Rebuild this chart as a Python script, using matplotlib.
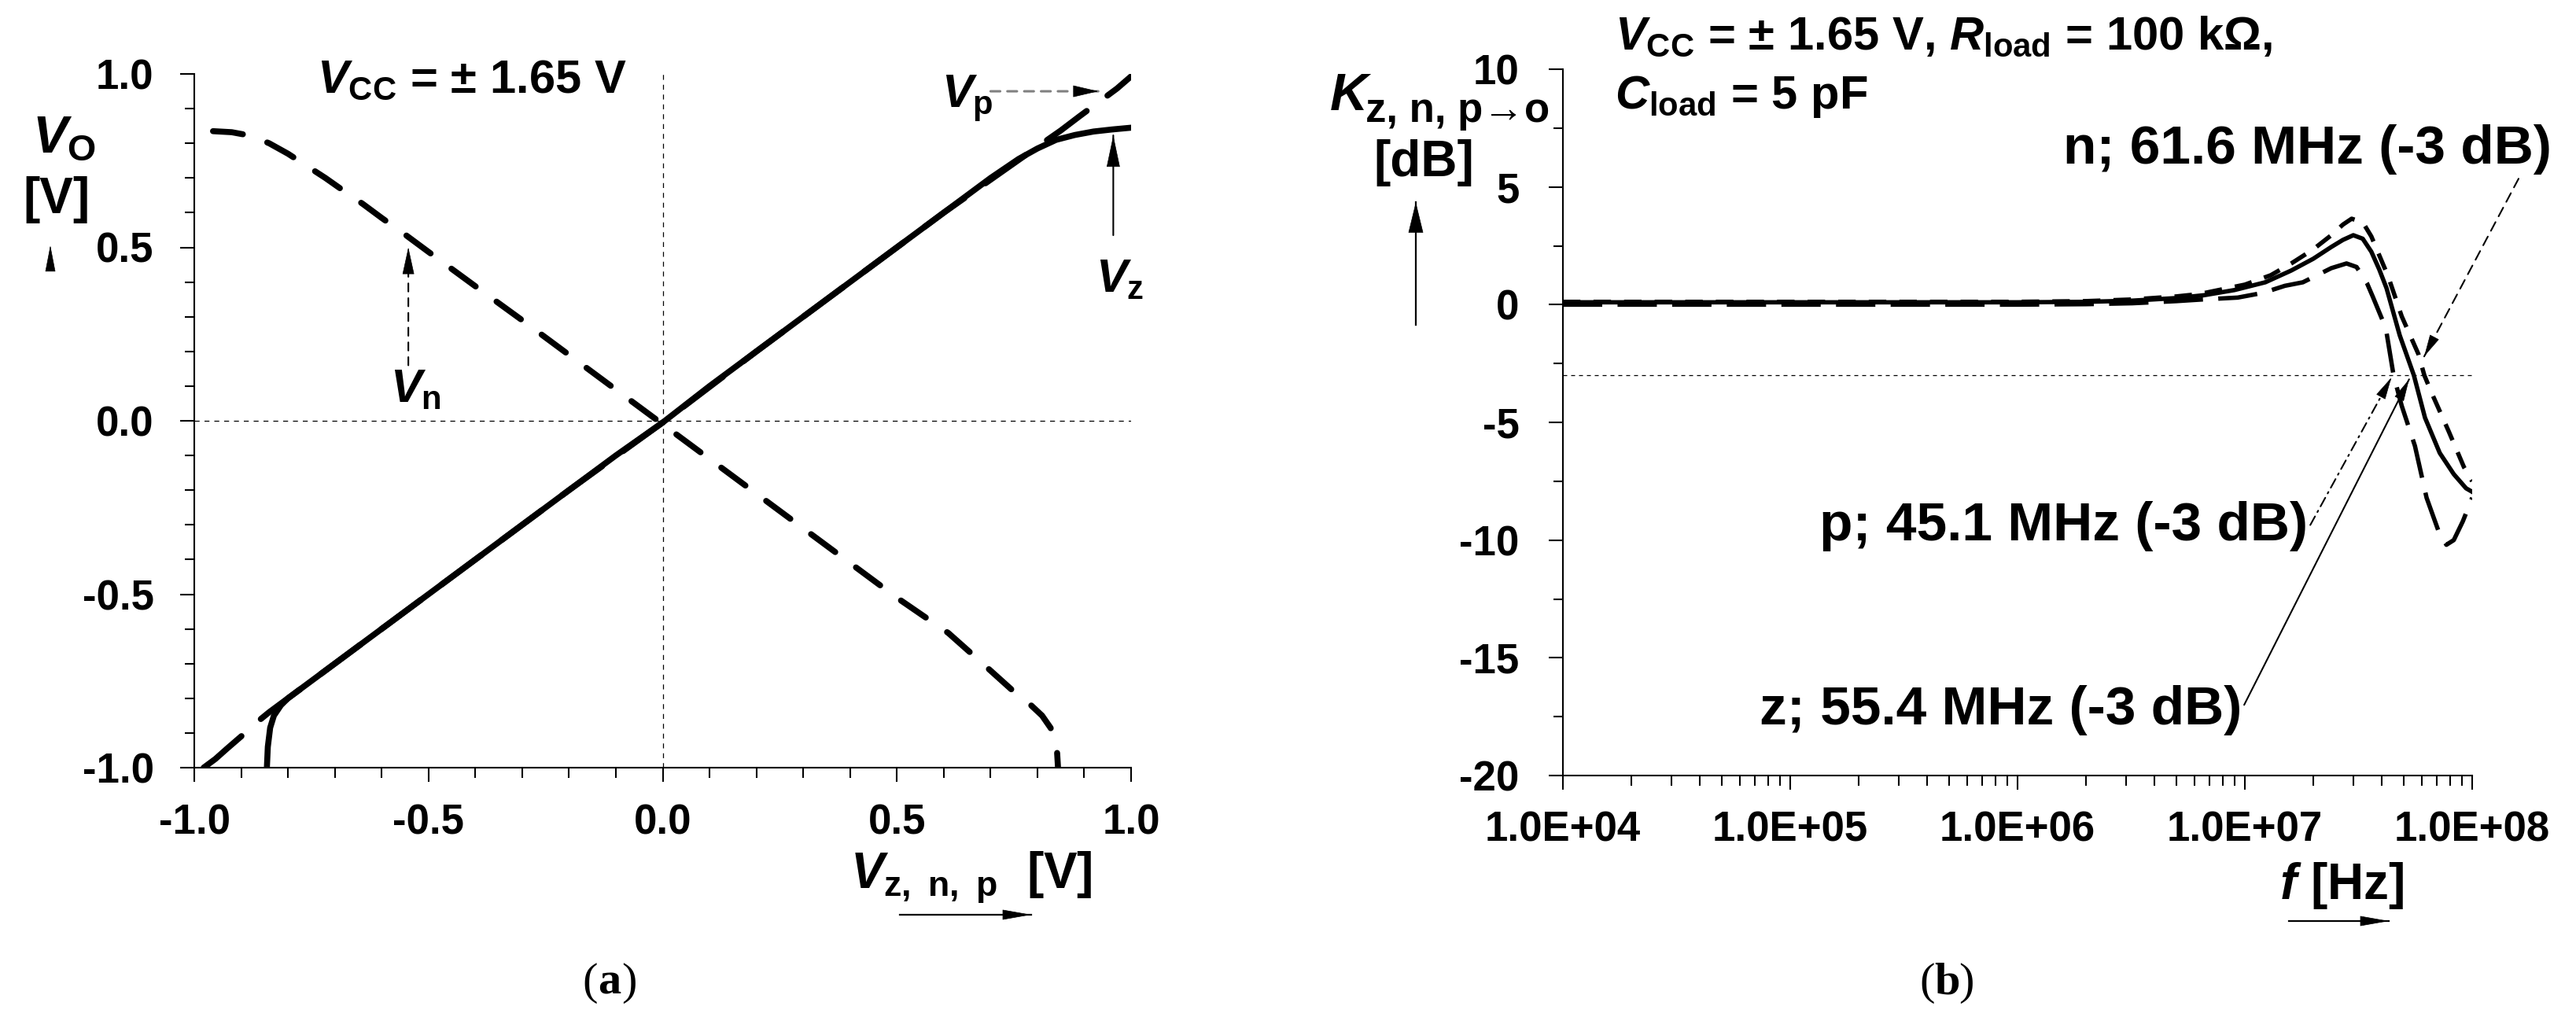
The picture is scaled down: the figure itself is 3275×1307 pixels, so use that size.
import numpy as np
import matplotlib
matplotlib.use('Agg')
import matplotlib.pyplot as plt
from matplotlib.ticker import FixedLocator, MultipleLocator, LogLocator, NullFormatter

W, H = 3275, 1307

# ---- (a) DC transfer: output voltage vs. input voltage [V] ----
vz_in = [-0.845, -0.843, -0.838, -0.830, -0.815, -0.80, -0.70, -0.60, -0.50, -0.40, -0.30, -0.20, -0.10,
         0.00, 0.10, 0.20, 0.30, 0.40, 0.50, 0.60, 0.70, 0.76, 0.80, 0.84, 0.88, 0.92, 0.96, 1.00]
vz_out = [-1.000, -0.940, -0.885, -0.850, -0.820, -0.800, -0.700, -0.600, -0.500, -0.400, -0.300, -0.200, -0.100,
          -0.005, 0.100, 0.200, 0.300, 0.400, 0.500, 0.600, 0.700, 0.755, 0.785, 0.810, 0.824, 0.834, 0.840, 0.845]

vp_in = [-0.980, -0.955, -0.930, -0.900, -0.870, -0.840, -0.800, -0.60, -0.40, -0.20, 0.00,
         0.20, 0.40, 0.60, 0.80, 0.85, 0.89, 0.93, 0.97, 1.00]
vp_out = [-1.000, -0.975, -0.945, -0.910, -0.873, -0.840, -0.800, -0.60, -0.40, -0.20, -0.005,
          0.20, 0.40, 0.60, 0.79, 0.837, 0.878, 0.918, 0.958, 0.993]

vn_in = [-0.960, -0.920, -0.880, -0.840, -0.800, -0.760, -0.720, -0.680, -0.640, -0.600, -0.550, -0.500,
         -0.400, -0.300, -0.200, -0.100, 0.000, 0.100, 0.200, 0.300, 0.400, 0.500, 0.610, 0.675,
         0.745, 0.780, 0.810, 0.828, 0.838, 0.842, 0.844]
vn_out = [0.835, 0.832, 0.822, 0.800, 0.770, 0.735, 0.700, 0.662, 0.625, 0.585, 0.537, 0.487,
          0.388, 0.290, 0.190, 0.090, -0.010, -0.110, -0.210, -0.310, -0.410, -0.510, -0.612, -0.690,
          -0.775, -0.812, -0.850, -0.885, -0.915, -0.955, -1.000]

dc_ticks = [-1.0, -0.5, 0.0, 0.5, 1.0]
dc_ticklabels = ['-1.0', '-0.5', '0.0', '0.5', '1.0']

# ---- (b) frequency response: gain [dB] vs. frequency [Hz] ----
fz = [1e4, 3e4, 1e5, 3e5, 1e6, 2e6, 3.2e6, 5e6, 6.6e6, 9e6, 1.23e7, 1.6e7, 2e7, 2.4e7, 2.7e7, 3.0e7,
      3.3e7, 3.6e7, 3.9e7, 4.2e7, 4.8e7, 5.54e7, 6.2e7, 7.2e7, 8.3e7, 9.4e7, 1e8]
kz = [0.10, 0.10, 0.10, 0.10, 0.10, 0.12, 0.17, 0.28, 0.40, 0.62, 0.95, 1.45, 1.95, 2.45, 2.75, 2.95,
      2.80, 2.25, 1.50, 0.70, -1.30, -3.00, -4.80, -6.30, -7.20, -7.80, -7.95]

fn = [1e4, 1e5, 1e6, 2e6, 3.2e6, 5e6, 6.3e6, 1e7, 1.3e7, 1.6e7, 2e7, 2.4e7, 2.7e7, 2.95e7, 3.3e7, 3.6e7,
      4.27e7, 4.9e7, 5.8e7, 6.16e7, 6.6e7, 7.9e7, 9.2e7, 1e8]
kn = [0.12, 0.12, 0.12, 0.15, 0.22, 0.35, 0.45, 0.85, 1.25, 1.75, 2.35, 2.95, 3.40, 3.65, 3.50, 2.90,
      1.20, -0.50, -2.10, -3.00, -3.70, -5.40, -6.90, -7.50]

fp = [1e4, 1e5, 1e6, 2e6, 3.2e6, 5e6, 6.5e6, 9.3e6, 1.2e7, 1.5e7, 1.8e7, 2.4e7, 2.8e7, 3.1e7, 3.45e7,
      3.65e7, 4.17e7, 4.51e7, 4.9e7, 5.6e7, 6.3e7, 7.1e7, 7.7e7, 8.3e7, 9.1e7, 1e8]
kp = [0.00, 0.00, 0.00, 0.02, 0.06, 0.15, 0.22, 0.30, 0.50, 0.80, 0.95, 1.55, 1.75, 1.60, 0.90,
      0.35, -1.00, -3.00, -4.30, -6.00, -8.20, -9.60, -10.20, -10.00, -9.20, -8.20]

freq_ticks = [1e4, 1e5, 1e6, 1e7, 1e8]
freq_ticklabels = ['1.0E+04', '1.0E+05', '1.0E+06', '1.0E+07', '1.0E+08']
gain_ticks = [10, 5, 0, -5, -10, -15, -20]

plt.rcParams['font.family'] = ['Liberation Sans', 'DejaVu Sans']
plt.rcParams['font.weight'] = 'bold'
plt.rcParams['axes.unicode_minus'] = False
plt.rcParams['mathtext.fontset'] = 'custom'
plt.rcParams['mathtext.rm'] = 'Liberation Sans:bold'
plt.rcParams['mathtext.it'] = 'Liberation Sans:italic:bold'
plt.rcParams['mathtext.bf'] = 'Liberation Sans:bold'

fig = plt.figure(figsize=(W / 100, H / 100), dpi=100)


def fxy(x, y):
    # pixel position (from top-left) -> figure fraction
    return x / W, 1 - y / H


def head(ax, p_from, p_to, size):
    # solid arrow head, p_from/p_to in display pixels
    d = (p_to - p_from) / np.hypot(*(p_to - p_from))
    base = p_to - d * size[0]
    ax.annotate('', xy=tuple(p_to), xytext=tuple(base), xycoords='figure pixels',
                textcoords='figure pixels', annotation_clip=False,
                arrowprops=dict(arrowstyle='-|>,head_length=%.2f,head_width=%.2f' % (size[0] * 0.72, size[1] * 0.72),
                                mutation_scale=1, lw=0.5, color='black', shrinkA=0, shrinkB=0))


def pointer(ax, tail, tip, ls='-', color='black', lw=1.5, size=(26, 6)):
    ax.annotate('', xy=tip, xytext=tail, annotation_clip=False,
                arrowprops=dict(arrowstyle='-', ls=ls, lw=lw, color=color, shrinkA=0, shrinkB=0))
    head(ax, ax.transData.transform(tail), ax.transData.transform(tip), size)


def fig_arrow(x0, y0, x1, y1, size=(34, 6)):
    p0 = np.array([x0, H - y0], float)
    p1 = np.array([x1, H - y1], float)
    fig.add_artist(matplotlib.lines.Line2D([x0 / W, x1 / W], [1 - y0 / H, 1 - y1 / H], color='black', lw=1.6))
    head(ax1, p0, p1, size)


ax1 = fig.add_axes([247 / W, 1 - 976 / H, (1438 - 247) / W, (976 - 94) / H])
ax2 = fig.add_axes([1987 / W, 1 - 986 / H, (3143 - 1987) / W, (986 - 88) / H])

for ax in (ax1, ax2):
    ax.spines['top'].set_visible(False)
    ax.spines['right'].set_visible(False)
    ax.spines['left'].set_linewidth(1.5)
    ax.spines['bottom'].set_linewidth(1.5)
    ax.tick_params(which='both', direction='out', width=1.5, labelsize=38)
    ax.tick_params(which='major', length=13)
    ax.tick_params(which='minor', length=9)

# ---------------- panel (a) ----------------
ax1.set_xlim(-1, 1)
ax1.set_ylim(-1, 1)
ax1.axvline(0, color='black', lw=0.9, ls=(0, (5, 5)), zorder=1)
ax1.axhline(0, color='black', lw=0.9, ls=(0, (5, 5)), zorder=1)
ax1.plot(vp_in, vp_out, color='black', lw=5.5, ls=(0, (8.2, 4.3)), dash_capstyle='round', zorder=3)
ax1.plot(vn_in, vn_out, color='black', lw=5.5, ls=(0, (5, 4.3)), dash_capstyle='round', zorder=3)
ax1.plot(vz_in, vz_out, color='black', lw=5.5, solid_capstyle='round', zorder=4)
ax1.xaxis.set_major_locator(FixedLocator(dc_ticks))
ax1.set_xticklabels(dc_ticklabels)
ax1.yaxis.set_major_locator(FixedLocator(dc_ticks))
ax1.set_yticklabels(dc_ticklabels)
ax1.xaxis.set_minor_locator(MultipleLocator(0.1))
ax1.yaxis.set_minor_locator(MultipleLocator(0.1))
ax1.tick_params(axis='x', pad=20)
ax1.tick_params(axis='y', pad=24)

pointer(ax1, (0.70, 0.95), (0.93, 0.95), ls=(0, (4, 3)), color='#808080', lw=2.2, size=(30, 7))
pointer(ax1, (0.962, 0.535), (0.962, 0.823), lw=1.5, size=(38, 8))
pointer(ax1, (-0.543, 0.16), (-0.543, 0.50), ls=(0, (5, 4)), lw=1.5, size=(32, 7))

fig.text(*fxy(403, 118), r'$V_{\mathrm{CC}}$ = ± 1.65 V', fontsize=43, ha='left', va='baseline')
fig.text(*fxy(1197, 137), r'$V_{\mathrm{p}}$', fontsize=43, ha='left', va='baseline')
fig.text(*fxy(1393, 372), r'$V_{\mathrm{z}}$', fontsize=43, ha='left', va='baseline')
fig.text(*fxy(496, 512), r'$V_{\mathrm{n}}$', fontsize=43, ha='left', va='baseline')
fig.text(*fxy(41, 193), r'$V_{\mathrm{O}}$', fontsize=48, ha='left', va='baseline')
fig.text(*fxy(72, 271), '[V]', fontsize=46, ha='center', va='baseline')
fig.text(*fxy(1081, 1130), r'$V_{\mathrm{z,\ n,\ p}}$  [V]', fontsize=46, ha='left', va='baseline')
head(ax1, np.array([64, H - 343.0]), np.array([64, H - 312.0]), (31, 6))
fig_arrow(1144, 1163, 1311, 1163)

# ---------------- panel (b) ----------------
ax2.set_xscale('log')
ax2.set_xlim(1e4, 1e8)
ax2.set_ylim(-20, 10)
ax2.axhline(-3, color='black', lw=0.9, ls=(0, (4, 4)), zorder=1)
ax2.plot(fp, kp, color='black', lw=4, ls=(0, (9, 3.5)), zorder=3)
ax2.plot(fn, kn, color='black', lw=4, ls=(0, (4, 3)), zorder=3)
ax2.plot(fz, kz, color='black', lw=4, zorder=4)
ax2.xaxis.set_major_locator(FixedLocator(freq_ticks))
ax2.set_xticklabels(freq_ticklabels)
ax2.xaxis.set_minor_locator(LogLocator(base=10, subs=range(2, 10)))
ax2.xaxis.set_minor_formatter(NullFormatter())
ax2.yaxis.set_major_locator(FixedLocator(gain_ticks))
ax2.set_yticklabels([str(t) for t in gain_ticks])
ax2.yaxis.set_minor_locator(MultipleLocator(2.5))
ax2.tick_params(axis='x', pad=19)
ax2.tick_params(axis='y', pad=27)

pointer(ax2, (1.6e8, 5.35), (6.15e7, -2.2), ls=(0, (6, 4)), lw=1.5, size=(26, 6))
pointer(ax2, (1.94e7, -9.36), (4.41e7, -3.1), ls=(0, (6, 3, 1, 3)), lw=1.5, size=(26, 6))
pointer(ax2, (9.93e6, -17.0), (5.28e7, -3.17), lw=1.5, size=(26, 6))

fig.text(*fxy(2053, 63), r'$V_{\mathrm{CC}}$ = ± 1.65 V, $R_{\mathrm{load}}$ = 100 kΩ,', fontsize=43,
         ha='left', va='baseline')
fig.text(*fxy(2053, 138), r'$C_{\mathrm{load}}$ = 5 pF', fontsize=43, ha='left', va='baseline')
fig.text(*fxy(3244, 208), 'n; 61.6 MHz (-3 dB)', fontsize=50, ha='right', va='baseline')
fig.text(*fxy(2934, 687), 'p; 45.1 MHz (-3 dB)', fontsize=50, ha='right', va='baseline')
fig.text(*fxy(2850, 921), 'z; 55.4 MHz (-3 dB)', fontsize=50, ha='right', va='baseline')
fig.text(*fxy(1690, 140), r'$K$', fontsize=48, ha='left', va='baseline')
fig.text(*fxy(1736, 155), 'z, n, p→o', fontsize=38, ha='left', va='baseline')
fig.text(*fxy(1810, 224), '[dB]', fontsize=46, ha='center', va='baseline')
fig.text(*fxy(2898, 1143), r'$f$ [Hz]', fontsize=46, ha='left', va='baseline')
fig_arrow(1800, 413, 1800, 257, size=(37, 9))
fig_arrow(2910, 1171, 3037, 1171)

# panel letters: normal parentheses, bold letter
for cx, letter in ((775, 'a'), (2475, 'b')):
    kw = dict(fontsize=42, family='Liberation Serif', va='center')
    fig.text(*fxy(cx - 15, 1250), '(', weight='normal', ha='right', **kw)
    fig.text(*fxy(cx, 1250), letter, weight='bold', ha='center', **kw)
    fig.text(*fxy(cx + 15, 1250), ')', weight='normal', ha='left', **kw)

fig.savefig('out.png', dpi=100)
